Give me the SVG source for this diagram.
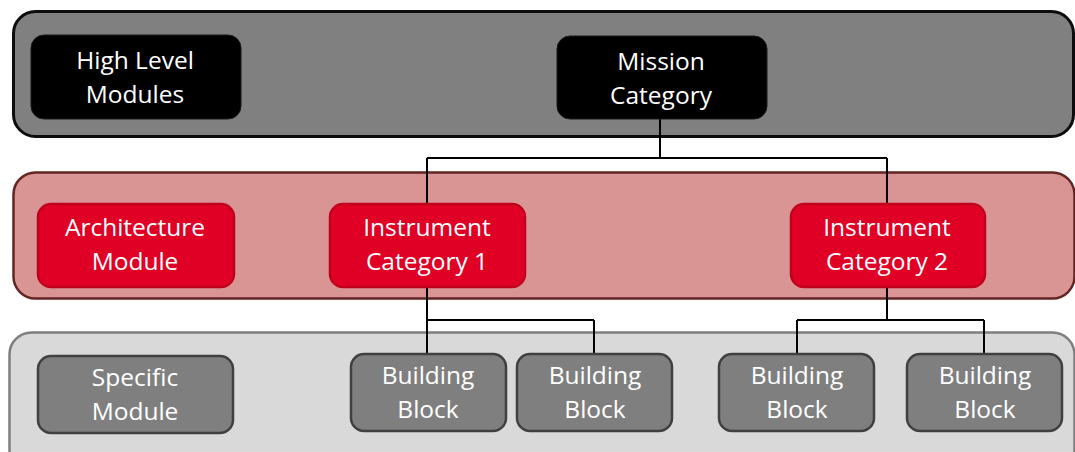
<svg xmlns="http://www.w3.org/2000/svg" width="1075" height="452" viewBox="0 0 1075 452">
<style>
.t{font-family:"Open Sans","Liberation Sans",sans-serif;font-size:24.5px;fill:#fff;text-anchor:middle}
.band1{fill:#808080;stroke:#0d0d0d;stroke-width:3}
.band2{fill:#d99594;stroke:#632523;stroke-width:2.5}
.band3{fill:#d9d9d9;stroke:#7f7f7f;stroke-width:2.5}
.k{fill:#000;stroke:#1a1a1a;stroke-width:1}
.r{fill:#e00025;stroke:#c0001c;stroke-width:2.5}
.g{fill:#7f7f7f;stroke:#404040;stroke-width:2.5}
.c{fill:none;stroke:#000;stroke-width:2}
</style>
<g id="bands">
<rect class="band1" x="13.5" y="11.5" width="1060" height="125" rx="22"/>
<rect class="band2" x="13.5" y="172.5" width="1061" height="126" rx="22"/>
<rect class="band3" x="9.5" y="332.5" width="1065" height="140" rx="22"/>
</g>
<g id="connectors">
<path class="c" d="M660 119V158M427 158H887M427 158V204M887 158V204"/>
<path class="c" d="M427 287V320M427 320H594M427 320V354M594 320V354"/>
<path class="c" d="M887 287V320M797 320H984M797 320V354M984 320V354"/>
</g>
<g id="high-level-modules">
<rect class="k" x="31" y="35" width="210" height="84" rx="13"/>
<text class="t" x="135" y="69">High Level</text>
<text class="t" x="135" y="103">Modules</text>
</g>
<g id="mission-category">
<rect class="k" x="557" y="36" width="210" height="83" rx="13"/>
<text class="t" x="661" y="70">Mission</text>
<text class="t" x="661" y="104">Category</text>
</g>
<g id="architecture-module">
<rect class="r" x="38" y="204" width="196" height="83" rx="13"/>
<text class="t" x="135" y="236">Architecture</text>
<text class="t" x="135" y="270">Module</text>
</g>
<g id="instrument-category-1">
<rect class="r" x="330" y="204" width="195" height="83" rx="13"/>
<text class="t" x="427" y="236">Instrument</text>
<text class="t" x="427" y="270">Category 1</text>
</g>
<g id="instrument-category-2">
<rect class="r" x="791" y="204" width="194" height="83" rx="13"/>
<text class="t" x="887" y="236">Instrument</text>
<text class="t" x="887" y="270">Category 2</text>
</g>
<g id="specific-module">
<rect class="g" x="38" y="356" width="195" height="77" rx="13"/>
<text class="t" x="135" y="386">Specific</text>
<text class="t" x="135" y="420">Module</text>
</g>
<g id="building-block-1">
<rect class="g" x="351" y="354" width="155" height="77" rx="13"/>
<text class="t" x="428" y="384">Building</text>
<text class="t" x="428" y="418">Block</text>
</g>
<g id="building-block-2">
<rect class="g" x="517" y="354" width="155" height="77" rx="13"/>
<text class="t" x="595" y="384">Building</text>
<text class="t" x="595" y="418">Block</text>
</g>
<g id="building-block-3">
<rect class="g" x="719" y="354" width="155" height="77" rx="13"/>
<text class="t" x="797" y="384">Building</text>
<text class="t" x="797" y="418">Block</text>
</g>
<g id="building-block-4">
<rect class="g" x="907" y="354" width="155" height="77" rx="13"/>
<text class="t" x="985" y="384">Building</text>
<text class="t" x="985" y="418">Block</text>
</g>
</svg>
